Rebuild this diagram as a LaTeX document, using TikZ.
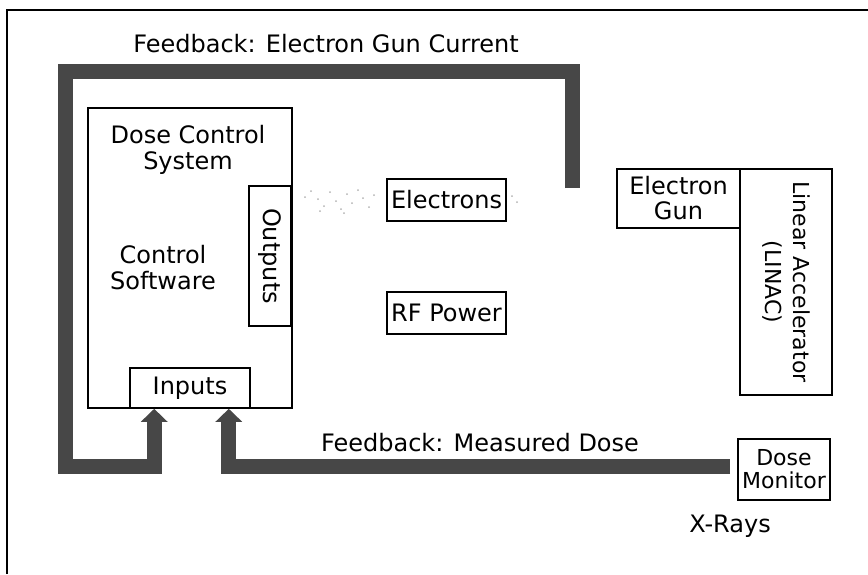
\documentclass[tikz,border=0pt]{standalone}
\usepackage{fontspec}
\setmainfont{DejaVu Sans}
\usetikzlibrary{arrows.meta}

\begin{document}
\begin{tikzpicture}[x=1pt,y=-1pt]
            \tikzset{
                box/.style={draw, line width=1.6pt, inner sep=0pt, align=center, font=\fontsize{24}{25}\selectfont},
                lbl/.style={align=center, font=\fontsize{24}{26}\selectfont},
                fb/.style={color=black!72, line width=15pt, line join=miter, -{Triangle[width=26pt,length=13pt]}}
            }
            \useasboundingbox (0,0) rectangle (868,574);
            \draw[line width=1.5pt] (7,574) -- (7,10) -- (868,10);

            \draw node[lbl] (gunfbtxt) at (326,44) {Feedback: Electron Gun Current};
            \draw node[box, minimum width=204pt, minimum height=300pt] (dcs) at (190,258) {};
            \draw node[lbl] (dcstxt) at (188,150) {Dose Control\\System};
            \draw node[lbl] (soft) at (163,268) {Control\\Software};
            \draw node[box, rotate=-90, minimum width=140pt, minimum height=42pt] (outputs) at (270,256) {Outputs};
            \draw node[box, minimum width=120pt, minimum height=40pt] (inputs) at (190,388) {Inputs};
            \draw node[box, minimum width=119pt, minimum height=42pt] (electrons) at (446.5,200) {Electrons};
            \draw node[box, minimum width=119pt, minimum height=42pt] (rf) at (446.5,313) {RF Power};
            \draw node[box, minimum width=123pt, minimum height=59pt] (gun) at (678.5,198.5) {Electron\\Gun};
            \draw node[box, rotate=-90, minimum width=226pt, minimum height=92pt,
                font=\fontsize{22}{28}\selectfont] (linac) at (786,282) {Linear Accelerator\\(LINAC)};
            \draw node[box, minimum width=92pt, minimum height=61pt,
                font=\fontsize{22}{23}\selectfont] (monitor) at (784,469.5) {Dose\\Monitor};
            \draw node[lbl] (dosefbtxt) at (480,443) {Feedback: Measured Dose};
            \draw node[lbl] (xrays) at (730,526) {X-Rays};

            % faint electron specks
            \foreach \px/\py in {%
                305/197, 311/191, 318/199, 324/206, 330/192, 336/201, 341/209, 347/194,%
                352/203, 358/190, 363/198, 369/207, 374/195, 320/211, 344/213, 512/196, 517/202%
            }{
            \fill[black!30] (\px,\py) circle (1pt);
            }

            \coordinate (gunfb) at (572,188);
            \draw[fb] (gunfb) -- (572,71) -- (65,71) -- (65,466) -| ([xshift=25pt]inputs.south west);
            \draw[fb, shorten <=7pt] ([yshift=3.5pt]monitor.west) -| ([xshift=-22pt]inputs.south east);
        \end{tikzpicture}
\end{document}
